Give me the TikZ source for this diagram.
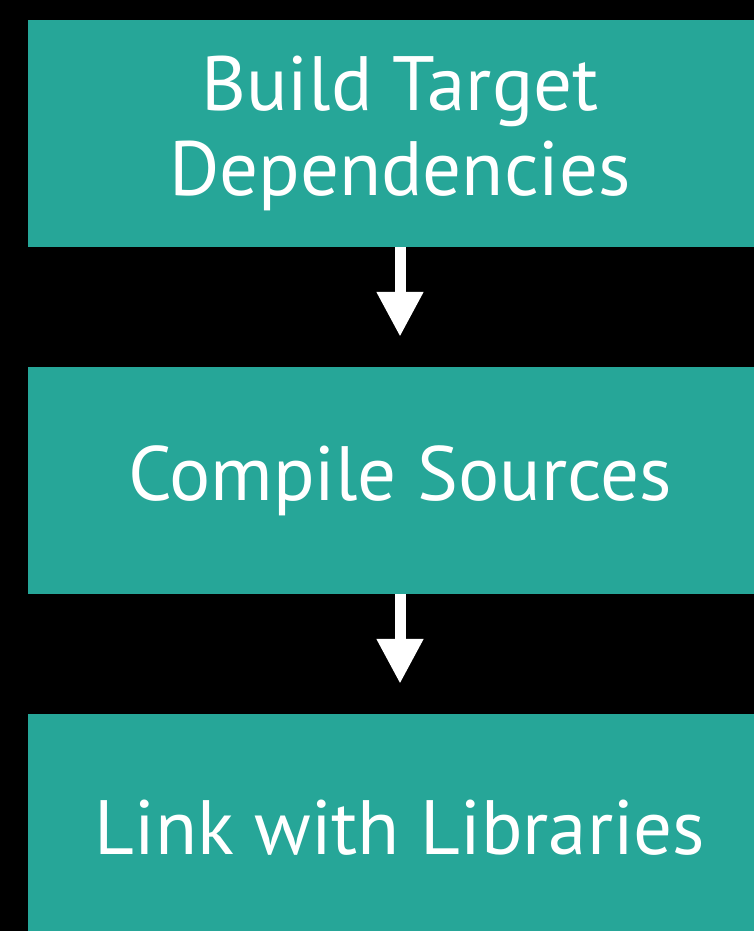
\documentclass[tikz,border=0pt]{standalone}
\usepackage{fontspec}
\setmainfont{PT Sans}
\usetikzlibrary{arrows.meta}
\definecolor{boxteal}{RGB}{38,166,152}
\tikzset{
  x=1pt,y=1pt,
  stagebox/.style={fill=boxteal, draw=none, text=white, minimum width=744pt, minimum height=227pt,
    inner sep=0pt, align=center, font=\fontsize{77}{85}\selectfont},
  flowarrow/.style={draw=white, line width=11pt, -{Triangle[width=44pt,length=45pt]}}
}
\begin{document}
\begin{tikzpicture}
\useasboundingbox (0,0) rectangle (754,-931);
\clip (0,0) rectangle (754,-931);
\fill[black] (0,0) rectangle (754,-931);
\node[stagebox] (b1) at (400,-133.5) {Build Target\\Dependencies};
\node[stagebox] (b2) at (400,-480.5) {Compile Sources};
\node[stagebox] (b3) at (400,-827.5) {Link with Libraries};
\draw[flowarrow] (b1.south) -- ([yshift=30pt]b2.north);
\draw[flowarrow] (b2.south) -- ([yshift=30pt]b3.north);
\end{tikzpicture}
\end{document}
